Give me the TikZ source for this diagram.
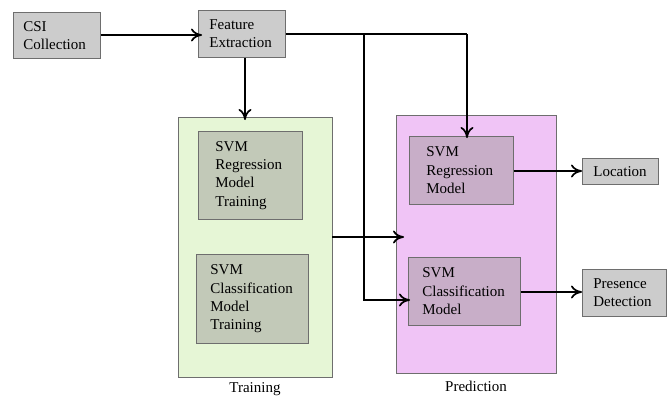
\documentclass[tikz,border=0pt]{standalone}
\usepackage{fontspec}
\setmainfont{Liberation Serif}
\usetikzlibrary{arrows.meta}
\definecolor{boxgray}{HTML}{CCCCCC}
\definecolor{trainbg}{HTML}{E6F6D6}
\definecolor{traininner}{HTML}{C2C9B8}
\definecolor{predbg}{HTML}{F0C4F6}
\definecolor{predinner}{HTML}{C8AEC8}
\definecolor{edge}{HTML}{6E6E6E}
\begin{document}
\begin{tikzpicture}[x=1pt,y=-1pt,
  box/.style={draw=edge, line width=0.8pt, rectangle, anchor=north west,
    align=left, inner ysep=0pt,
    font=\fontsize{15}{18.3}\selectfont},
  panel/.style={draw=edge, line width=0.8pt},
  flow/.style={line width=1.7pt, -{Computer Modern Rightarrow[length=11pt,width=13pt]}},
  plain/.style={line width=1.7pt},
  caption/.style={font=\fontsize{15}{18}\selectfont}]
\useasboundingbox (0,0) rectangle (667,396);

% container panels
\draw[panel, fill=trainbg] (178,117) rectangle (332,377);
\draw[panel, fill=predbg] (396,115) rectangle (556,373);

% input stage
\node[box, fill=boxgray, minimum width=87pt, minimum height=46pt,
  text width=67pt, inner xsep=10pt] (csi) at (13,12) {CSI\\Collection};
\node[box, fill=boxgray, minimum width=87pt, minimum height=47pt,
  text width=65pt, inner xsep=11pt] (fe) at (198,10) {Feature\\Extraction};

% training models
\node[box, fill=traininner, minimum width=104pt, minimum height=88pt,
  text width=70pt, inner xsep=17pt] (regtrain) at (198,131) {SVM\\Regression\\Model\\Training};
\node[box, fill=traininner, minimum width=112pt, minimum height=89pt,
  text width=84pt, inner xsep=14pt] (clstrain) at (196,254) {SVM\\Classification\\Model\\Training};

% prediction models
\node[box, fill=predinner, minimum width=104pt, minimum height=68pt,
  text width=70pt, inner xsep=17pt] (reg) at (409,136) {SVM\\Regression\\Model};
\node[box, fill=predinner, minimum width=112pt, minimum height=68pt,
  text width=84pt, inner xsep=14pt] (cls) at (408,257) {SVM\\Classification\\Model};

% outputs
\node[box, fill=boxgray, minimum width=76pt, minimum height=26pt,
  text width=54pt, inner xsep=11pt] (loc) at (582,158) {Location};
\node[box, fill=boxgray, minimum width=84pt, minimum height=47pt,
  text width=62pt, inner xsep=11pt] (pres) at (582,269) {Presence\\Detection};

% panel captions
\node[caption] (traincap) at (255,389) {Training};
\node[caption] (predcap) at (476,386) {Prediction};

% routing points
\coordinate (split) at (364,34);
\coordinate (corner) at (467,34);
\coordinate (trainout) at (332,237);
\coordinate (predin) at (404,237);
\coordinate (down) at (364,300);
\coordinate (clsin) at (410,300);
\coordinate (trainin) at (245,120);
\coordinate (regin) at (467,138);

% connectors
\draw[flow] (csi.east |- 0,35) -- (202,35);
\draw[flow] (fe.south -| trainin) -- (trainin);
\draw[plain] (fe.east |- split) -- (corner);
\draw[flow] (corner) -- (regin);
\draw[flow] (split) -- (down) -- (clsin);
\draw[flow] (trainout) -- (predin);
\draw[flow] (reg.east |- 0,171) -- (loc.west |- 0,171);
\draw[flow] (cls.east |- 0,292) -- (pres.west |- 0,292);
\end{tikzpicture}
\end{document}
